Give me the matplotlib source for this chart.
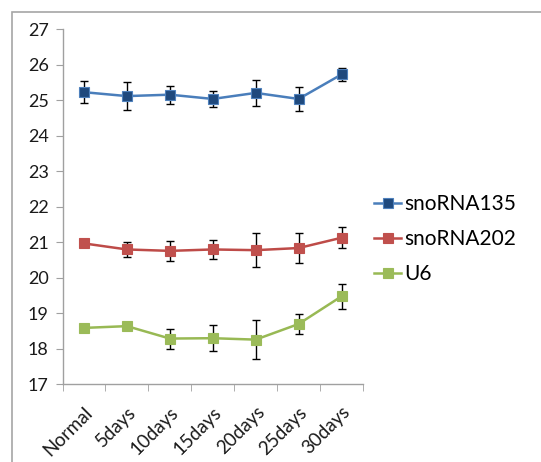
import matplotlib
matplotlib.use('Agg')
import matplotlib.pyplot as plt
from matplotlib.patches import Rectangle
import numpy as np

plt.rcParams['font.family'] = ['Lato', 'DejaVu Sans']

categories = ['Normal', '5days', '10days', '15days', '20days', '25days', '30days']

sno135 = [25.22, 25.11, 25.15, 25.03, 25.20, 25.03, 25.72]
sno135_err = [0.31, 0.39, 0.25, 0.22, 0.36, 0.34, 0.18]

sno202 = [20.96, 20.79, 20.75, 20.79, 20.77, 20.83, 21.12]
sno202_err = [0.0, 0.20, 0.29, 0.28, 0.48, 0.41, 0.30]

u6 = [18.58, 18.63, 18.28, 18.29, 18.25, 18.69, 19.47]
u6_err = [0.0, 0.0, 0.28, 0.37, 0.54, 0.29, 0.35]

series = [
    ('snoRNA135', sno135, sno135_err, '#4a7ebb', '#1f497d', '#4f81bd'),
    ('snoRNA202', sno202, sno202_err, '#be4b48', '#c0504d', '#c0504d'),
    ('U6', u6, u6_err, '#98b954', '#9bbb59', '#9bbb59'),
]

fig = plt.figure(figsize=(5.41, 4.62), dpi=100)
fig.patches.append(Rectangle((11.5 / 541, -0.1), 1.2, 1 - 11.5 / 462 + 0.1,
                             transform=fig.transFigure, fill=False,
                             edgecolor='#a6a6a6', linewidth=1.2))
ax = fig.add_axes([62.5 / 541, 1 - 384 / 462, 300.5 / 541, 355 / 462])

x = np.arange(len(categories))
for name, vals, err, lc, mfc, mec in series:
    ax.errorbar(x, vals, yerr=err, fmt='none', ecolor='black',
                elinewidth=1, capsize=3, capthick=1, zorder=2)
    ax.plot(x, vals, color=lc, linewidth=1.8, marker='s', markersize=6.5,
            markerfacecolor=mfc, markeredgecolor=mec, markeredgewidth=0.8,
            label=name, zorder=3)

ax.set_xlim(-0.5, 6.5)
ax.set_ylim(17, 27)
ax.set_yticks(range(17, 28))
ax.set_xticks(x)
ax.set_xticklabels(categories, rotation=45, ha='right', va='top',
                   rotation_mode='anchor', fontsize=13.5, color='#1a1a1a')
ax.set_xticks(np.arange(-0.5, 7, 1), minor=True)
ax.tick_params(axis='x', which='major', length=0, pad=14)
ax.tick_params(axis='x', which='minor', length=5, color='#a0a0a0')
ax.tick_params(axis='y', length=5, color='#a0a0a0', labelsize=13,
               labelcolor='#1a1a1a', pad=5)

for s in ['top', 'right']:
    ax.spines[s].set_visible(False)
for s in ['left', 'bottom']:
    ax.spines[s].set_color('#a0a0a0')
    ax.spines[s].set_linewidth(1)

fig.legend(loc='upper left', bbox_to_anchor=(366 / 541, 1 - 186 / 462),
           frameon=False, fontsize=15, handlelength=1.3, handletextpad=0.12,
           labelspacing=0.72, borderaxespad=0)

fig.savefig('out.png', dpi=100)
